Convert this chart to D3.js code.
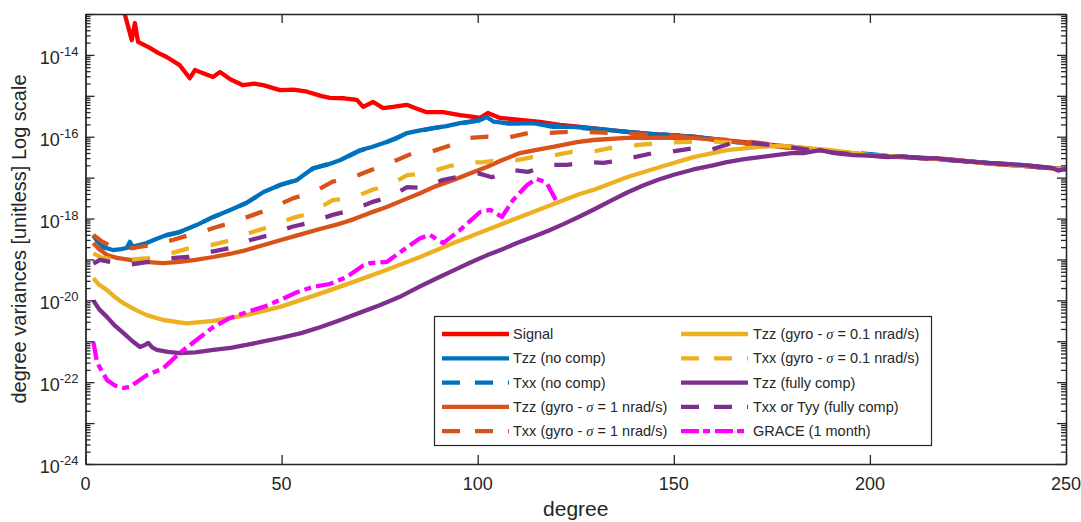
<!DOCTYPE html>
<html>
<head>
<meta charset="utf-8">
<script src="https://cdn.jsdelivr.net/npm/d3@7"></script>
<style>
    body { margin: 0; background: #fff; }
    svg { display: block; font-family: "Liberation Sans", Arial, sans-serif; }
    .axis path, .axis line { stroke: #262626; stroke-width: 1.3; }
</style>
</head>
<body>
<svg width="1081" height="522"></svg>
<script>
/*global d3 */
"use strict";

// [degree, log10(degree variance)]
var signal = [[10, -13.0], [11.8, -13.64], [12.6, -13.22], [13.4, -13.68],
    [16.4, -13.83], [18.5, -13.95], [20.7, -14.05], [24, -14.25],
    [26.6, -14.57], [27.9, -14.37], [30, -14.45], [32.5, -14.54],
    [34.3, -14.42], [37, -14.6], [40.2, -14.74], [43, -14.7],
    [45.3, -14.74], [49.6, -14.86], [53, -14.85], [56.5, -14.9],
    [60, -15.0], [62.3, -15.05], [66, -15.06], [69.2, -15.1],
    [70.8, -15.27], [73.3, -15.15], [75.9, -15.3], [78.4, -15.27],
    [81.9, -15.22], [84, -15.3], [87, -15.4], [91.2, -15.4],
    [95.5, -15.47], [98, -15.5], [100.6, -15.54], [102.6, -15.42],
    [105.7, -15.54], [110.8, -15.59], [115.9, -15.64], [121, -15.71],
    [125, -15.75], [132, -15.82], [140, -15.9], [147, -15.95],
    [155, -16.0], [162, -16.08], [170, -16.15], [180, -16.25],
    [190, -16.35], [200, -16.45], [210, -16.5], [220, -16.55],
    [230, -16.65], [240, -16.72], [250, -16.8]];

var tzzNoComp = [[2, -18.4], [3, -18.55], [4.5, -18.7], [7, -18.77],
    [9, -18.75], [10.5, -18.72], [11.3, -18.57], [12.2, -18.72],
    [15.6, -18.6], [18, -18.5], [20.7, -18.4], [24, -18.33],
    [28.3, -18.16], [32.6, -17.96], [36.9, -17.79], [41, -17.62],
    [45.4, -17.35], [49.6, -17.18], [53.9, -17.06], [58, -16.77],
    [61.5, -16.69], [65, -16.57], [70, -16.33], [73, -16.25],
    [76.8, -16.13], [79, -16.05], [82, -15.91], [85, -15.85],
    [88.7, -15.79], [92, -15.74], [95.5, -15.67], [100.6, -15.59],
    [102.3, -15.52], [104, -15.63], [107.4, -15.67], [114.2, -15.67],
    [119.2, -15.76], [124.3, -15.76], [130, -15.8], [138, -15.88],
    [146, -15.95], [155, -16.0], [163, -16.1], [172, -16.2],
    [180, -16.25], [190, -16.35], [200, -16.45], [210, -16.5],
    [220, -16.56], [230, -16.64], [240, -16.7], [250, -16.8]];

var txxNoComp = [[2, -18.42], [4.5, -18.7], [7, -18.76], [10.5, -18.72],
    [15.6, -18.6], [20.7, -18.41], [24, -18.33], [28.3, -18.16],
    [32.6, -17.96], [36.9, -17.79], [41, -17.62], [45.4, -17.36],
    [49.6, -17.18], [53.9, -17.05], [58, -16.78], [65, -16.57],
    [70, -16.34], [76.8, -16.13], [82, -15.92], [88.7, -15.79],
    [95.5, -15.68], [100.6, -15.6], [107.4, -15.67], [114.2, -15.68],
    [124.3, -15.77], [138, -15.88], [155, -16.0], [172, -16.2],
    [190, -16.35], [210, -16.5], [230, -16.64], [250, -16.8]];

var tzzGyro1 = [[2, -18.6], [3.5, -18.75], [5.5, -18.89], [8, -18.96],
    [11.3, -19.01], [15, -19.06], [19.8, -19.09], [24, -19.06],
    [28, -19.01], [32.6, -18.94], [37, -18.86], [41, -18.77],
    [45, -18.66], [49.6, -18.53], [54, -18.41], [60, -18.25],
    [64, -18.15], [68.3, -18.02], [72, -17.88], [76.8, -17.72],
    [81, -17.55], [85.3, -17.38], [89, -17.22], [93.8, -17.06],
    [98, -16.9], [102.3, -16.74], [106, -16.58], [110.8, -16.4],
    [115, -16.32], [119.2, -16.25], [125.3, -16.13], [129.5, -16.08],
    [138, -16.03], [146.5, -16.03], [155, -16.03], [163.5, -16.1],
    [172, -16.2], [180, -16.27], [190, -16.36], [200, -16.46],
    [210, -16.51], [220, -16.56], [230, -16.65], [240, -16.72],
    [250, -16.8]];

var txxGyro1 = [[2, -18.4], [4, -18.55], [6, -18.65], [9, -18.72],
    [12, -18.72], [16.5, -18.65], [20, -18.57], [22, -18.53],
    [26.6, -18.4], [30, -18.32], [32.6, -18.23], [37.3, -18.1],
    [42.8, -17.91], [47.5, -17.74], [53, -17.5], [57.7, -17.38],
    [63, -17.1], [68, -17.0], [73, -16.81], [77.6, -16.64],
    [83.5, -16.4], [88, -16.37], [93.4, -16.2], [97.6, -16.03],
    [102.6, -16.0], [107.4, -16.03], [112.8, -15.91], [117.6, -15.91],
    [122.8, -15.88], [126, -15.88], [132, -15.9], [140, -15.93],
    [150, -15.98], [160, -16.05], [170, -16.13], [180, -16.25],
    [190, -16.35], [200, -16.45], [210, -16.5], [220, -16.56],
    [230, -16.65], [240, -16.72], [250, -16.8]];

var tzzGyro01 = [[2, -19.46], [3.5, -19.62], [5.5, -19.75], [7.5, -19.92],
    [9.7, -20.07], [12.5, -20.22], [15.6, -20.36], [19.8, -20.48],
    [25.8, -20.56], [32.6, -20.5], [41, -20.36], [49.6, -20.16],
    [60, -19.83], [68, -19.56], [76, -19.28], [85.3, -18.94],
    [93.8, -18.6], [102.3, -18.28], [110.8, -17.96], [119.2, -17.65],
    [126, -17.4], [129.5, -17.3], [138, -16.99], [146.5, -16.74],
    [155, -16.5], [163.5, -16.33], [172, -16.25], [177, -16.22],
    [190, -16.33], [200, -16.45], [210, -16.5], [220, -16.56],
    [230, -16.65], [240, -16.72], [250, -16.8]];

var txxGyro01 = [[2, -18.85], [4, -18.95], [7, -19.0], [12, -19.0],
    [16, -18.97], [21, -18.87], [25.8, -18.74], [32, -18.65],
    [37, -18.53], [42.5, -18.33], [47, -18.2], [52.7, -17.99],
    [57.3, -17.87], [63, -17.55], [68, -17.5], [73, -17.3],
    [77.6, -17.18], [82, -16.94], [87, -16.89], [92, -16.74],
    [96, -16.64], [101.5, -16.62], [106, -16.57], [110, -16.57],
    [114, -16.5], [119.7, -16.45], [124, -16.37], [129, -16.37],
    [133.7, -16.28], [138, -16.25], [141, -16.2], [147, -16.15],
    [151.6, -16.13], [160, -16.12], [170, -16.17], [180, -16.25],
    [190, -16.35], [200, -16.45], [210, -16.5], [220, -16.56],
    [230, -16.65], [240, -16.72], [250, -16.8]];

var tzzFull = [[2, -20.0], [3.5, -20.22], [5.5, -20.41], [7.5, -20.62],
    [9.7, -20.8], [12, -21.0], [13.9, -21.14], [15, -21.1],
    [16, -21.04], [17, -21.15], [18.2, -21.21], [21, -21.26],
    [24, -21.29], [28, -21.27], [32.6, -21.21], [37, -21.16],
    [41, -21.09], [45, -21.01], [49.6, -20.92], [55, -20.8],
    [60, -20.65], [65, -20.48], [70, -20.3], [75, -20.12],
    [80, -19.92], [85.3, -19.66], [90, -19.44], [94, -19.26],
    [98, -19.08], [102.3, -18.9], [106, -18.76], [110, -18.6],
    [114, -18.45], [118, -18.3], [122, -18.13], [126, -17.95],
    [130, -17.76], [134, -17.56], [138, -17.37], [142, -17.2],
    [146, -17.05], [150, -16.93], [155, -16.8], [160, -16.7],
    [163.5, -16.62], [168, -16.55], [172, -16.5], [176, -16.45],
    [180, -16.4], [183, -16.4], [187.3, -16.33], [191, -16.4],
    [195.8, -16.45], [200, -16.46], [204.4, -16.5], [208, -16.48],
    [212.8, -16.52], [217, -16.53], [221, -16.57], [225, -16.6],
    [229.8, -16.64], [234, -16.66], [238.3, -16.69], [242, -16.72],
    [246.7, -16.77], [248, -16.83], [250, -16.78]];

var txxFull = [[2, -19.1], [3.7, -19.01], [6.2, -19.06], [9, -19.12],
    [11.3, -19.13], [16, -19.06], [21.5, -18.97], [26, -18.94],
    [31.7, -18.82], [36.8, -18.72], [41.9, -18.53], [47, -18.4],
    [52.7, -18.2], [57.3, -18.1], [63, -17.91], [68, -17.79],
    [73, -17.6], [77.6, -17.47], [82, -17.23], [86, -17.25],
    [91, -17.06], [94.7, -16.99], [100, -16.89], [103.6, -16.99],
    [108.7, -16.81], [112.8, -16.86], [118.4, -16.69], [122.8, -16.69],
    [127.8, -16.62], [132, -16.64], [136.8, -16.57], [140, -16.5],
    [144.7, -16.4], [149, -16.37], [155, -16.28], [159, -16.33],
    [165, -16.15], [169.5, -16.15], [174.5, -16.2], [179, -16.25],
    [185, -16.33], [190, -16.38], [200, -16.46], [210, -16.5],
    [220, -16.57], [230, -16.64], [240, -16.72], [250, -16.79]];

var grace = [[2, -21.02], [3, -21.53], [5.5, -21.95], [7.5, -22.08],
    [9.7, -22.14], [11.3, -22.12], [13, -22.0], [15.6, -21.83],
    [19.8, -21.66], [24, -21.29], [28.3, -20.97], [32.6, -20.65],
    [36.9, -20.43], [41, -20.29], [45.4, -20.16], [49.6, -19.99],
    [53.9, -19.8], [58, -19.67], [62.3, -19.6], [66.6, -19.43],
    [70.8, -19.15], [72.6, -19.09], [76.8, -19.06], [81, -18.77],
    [85.3, -18.48], [87.8, -18.4], [91.2, -18.6], [95.5, -18.28],
    [100.6, -17.84], [103.2, -17.79], [106.2, -17.96], [109, -17.55],
    [112.6, -17.18], [115, -17.03], [117.6, -17.13], [120.2, -17.6]];

var seriesLabels = [
    "Signal", "Tzz (no comp)", "Txx (no comp)",
    "Tzz (gyro - σ = 1 nrad/s)", "Txx (gyro - σ = 1 nrad/s)",
    "Tzz (gyro - σ = 0.1 nrad/s)", "Txx (gyro - σ = 0.1 nrad/s)",
    "Tzz (fully comp)", "Txx or Tyy (fully comp)", "GRACE (1 month)"
];
var seriesData = [signal, tzzNoComp, txxNoComp, tzzGyro1, txxGyro1,
    tzzGyro01, txxGyro01, tzzFull, txxFull, grace];

var xTicks = [0, 50, 100, 150, 200, 250];
var yLabelExponents = [-24, -22, -20, -18, -16, -14];

var colors = ["#ff0000", "#0072bd", "#0072bd", "#d95319", "#d95319",
    "#edb120", "#edb120", "#7e2f8e", "#7e2f8e", "#ff00ff"];
var styles = ["solid", "solid", "dash", "solid", "dash",
    "solid", "dash", "solid", "dash", "dashdot"];
var plotDash = {solid: null, dash: "18,22", dashdot: "18,5,7,5"};
var legendDash = {solid: null, dash: "18,15", dashdot: "18,4,7,5"};

var margin = {top: 14, left: 85.5, bottom: 58, right: 15}; // px
var width = 1081;
var height = 522;
var textColor = "#262626";

var svg = d3.select("svg");

var x = d3.scaleLinear()
    .domain([0, 250])
    .range([margin.left, width - margin.right]);
var y = d3.scaleLog()
    .domain([1e-24, 1e-13])
    .range([height - margin.bottom, margin.top]);

svg.append("clipPath").attr("id", "plot-clip")
    .append("rect")
    .attr("x", x(0))
    .attr("y", y(1e-13))
    .attr("width", x(250) - x(0))
    .attr("height", y(1e-24) - y(1e-13));

var line = d3.line()
    .x(function (d) {
        return x(d[0]);
    })
    .y(function (d) {
        return y(Math.pow(10, d[1]));
    });

var lines = svg.append("g").attr("clip-path", "url(#plot-clip)");
seriesData.forEach(function (data, i) {
    lines.append("path")
        .datum(data)
        .attr("fill", "none")
        .attr("stroke", colors[i])
        .attr("stroke-width", 4.3)
        .attr("stroke-linejoin", "round")
        .attr("stroke-dasharray", plotDash[styles[i]])
        .attr("d", line);
});

// axes, ticks pointing inwards as in MATLAB
var majorY = d3.range(-24, -12).map(function (e) {
    return Math.pow(10, e);
});
var minorY = [];
d3.range(-24, -13).forEach(function (e) {
    d3.range(2, 10).forEach(function (m) {
        minorY.push(m * Math.pow(10, e));
    });
});

var addAxis = function (axis, tx, ty) {
    var g = svg.append("g")
        .attr("class", "axis")
        .attr("transform", "translate(" + tx + "," + ty + ")")
        .call(axis);
    g.selectAll("text").remove();
    return g;
};

var plotBottom = y(1e-24);
var plotTop = y(1e-13);
var plotLeft = x(0);
var plotRight = x(250);

addAxis(d3.axisBottom(x).tickValues(xTicks).tickSizeInner(-9)
    .tickSizeOuter(0), 0, plotBottom);
addAxis(d3.axisTop(x).tickValues(xTicks).tickSizeInner(-9)
    .tickSizeOuter(0), 0, plotTop);
addAxis(d3.axisLeft(y).tickValues(majorY).tickSizeInner(-9)
    .tickSizeOuter(0), plotLeft, 0);
addAxis(d3.axisLeft(y).tickValues(minorY).tickSizeInner(-5)
    .tickSizeOuter(0), plotLeft, 0);
addAxis(d3.axisRight(y).tickValues(majorY).tickSizeInner(-9)
    .tickSizeOuter(0), plotRight, 0);
addAxis(d3.axisRight(y).tickValues(minorY).tickSizeInner(-5)
    .tickSizeOuter(0), plotRight, 0);

svg.append("g").selectAll("text")
    .data(xTicks)
    .join("text")
    .attr("x", function (d) {
        return x(d);
    })
    .attr("y", plotBottom + 26)
    .attr("text-anchor", "middle")
    .attr("font-size", 18)
    .attr("fill", textColor)
    .text(function (d) {
        return d;
    });

var yLabels = svg.append("g").selectAll("text")
    .data(yLabelExponents)
    .join("text")
    .attr("x", plotLeft - 7)
    .attr("y", function (d) {
        return y(Math.pow(10, d)) + 9;
    })
    .attr("text-anchor", "end")
    .attr("fill", textColor);
yLabels.append("tspan")
    .attr("font-size", 18)
    .text("10");
yLabels.append("tspan")
    .attr("font-size", 13)
    .attr("dy", -8)
    .text(function (d) {
        return String(d);
    });

svg.append("text")
    .attr("x", x(125))
    .attr("y", plotBottom + 52)
    .attr("text-anchor", "middle")
    .attr("font-size", 21)
    .attr("fill", textColor)
    .text("degree");

svg.append("text")
    .attr("transform", "translate(26," + ((plotTop + plotBottom) / 2) +
            ") rotate(-90)")
    .attr("text-anchor", "middle")
    .attr("font-size", 20)
    .attr("fill", textColor)
    .text("degree variances [unitless] Log scale");

// legend
var legend = svg.append("g");
legend.append("rect")
    .attr("x", 434.5)
    .attr("y", 316.5)
    .attr("width", 497)
    .attr("height", 129)
    .attr("fill", "#fff")
    .attr("stroke", "#262626")
    .attr("stroke-width", 1.2);

var legendCols = [{line: 442, text: 513}, {line: 681, text: 753}];
var legendRowY = function (row) {
    return 334 + row * 24.3;
};

seriesLabels.forEach(function (label, i) {
    var col = legendCols[Math.floor(i / 5)];
    var ry = legendRowY(i % 5);
    legend.append("line")
        .attr("x1", col.line)
        .attr("x2", col.line + 67)
        .attr("y1", ry)
        .attr("y2", ry)
        .attr("stroke", colors[i])
        .attr("stroke-width", 4.3)
        .attr("stroke-dasharray", legendDash[styles[i]]);
    var t = legend.append("text")
        .attr("x", col.text)
        .attr("y", ry + 5)
        .attr("font-size", 14.5)
        .attr("fill", textColor);
    label.split("σ").forEach(function (part, j) {
        if (j > 0) {
            t.append("tspan")
                .attr("font-family", "'Liberation Serif', serif")
                .attr("font-style", "italic")
                .text("σ");
        }
        t.append("tspan").text(part);
    });
});
</script>
</body>
</html>
